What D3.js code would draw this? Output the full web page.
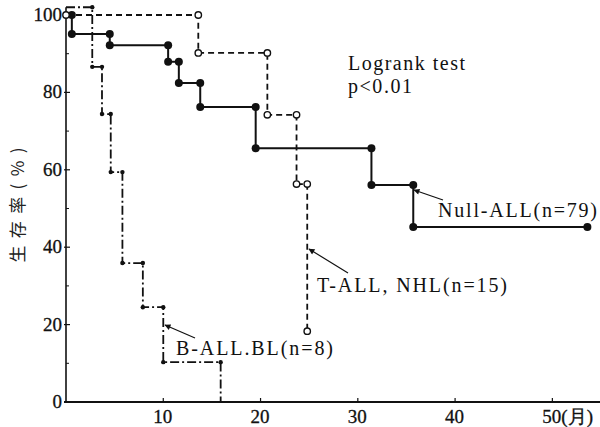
<!DOCTYPE html>
<html>
  <head>
    <meta charset="utf-8">
    <script src="https://d3js.org/d3.v7.min.js"></script>
    <style>
      body { margin: 0px; background: #fff; }
      text { font-family: 'Liberation Serif', 'DejaVu Serif', serif; fill: #111; }
      .tick-label { font-size: 19px; stroke: #111; stroke-width: 0.3px; }
      .note { font-size: 20px; }
      .ylab { font-family: 'Noto Sans CJK JP', sans-serif; font-size: 17px; fill: #222; }
    </style>
  </head>
  <body>
    <script>
      // survival curves (months, %)
      const nullTimes = [0, 0.6, 4.5, 10.5, 11.6, 13.8, 19.5, 31.4, 35.7];
      const nullSurv  = [100, 95.1, 92.2, 87.9, 82.4, 76.2, 65.6, 56.1, 45.2];
      const nullEnd = 53.6;

      const tTimes = [0, 13.6, 20.7, 23.7, 24.8];
      const tSurv  = [100, 90.2, 74.2, 56.3, 18.3];

      const bTimes = [0, 2.7, 3.7, 4.6, 5.8, 7.9, 10.0, 15.9];
      const bSurv  = [102, 86.6, 74.4, 59.4, 35.9, 24.5, 10.3, 0];

      const xTicks = [10, 20, 30, 40, 50];
      const xTickLabels = ['10', '20', '30', '40', '50(月)'];
      const yTicks = [20, 40, 60, 80, 100];
      const yMinor = [10, 30, 50, 70, 90];

      const svg = d3.select('body').append('svg')
        .attr('width', 600)
        .attr('height', 427);

      const xScale = d3.scaleLinear().domain([0, 55]).range([66, 601]);
      const yScale = d3.scaleLinear().domain([0, 100]).range([402, 15]);

      svg.append('defs').append('marker')
        .attr('id', 'arrow')
        .attr('viewBox', '0 0 10 10')
        .attr('refX', 9).attr('refY', 5)
        .attr('markerWidth', 7).attr('markerHeight', 5)
        .attr('orient', 'auto')
        .append('path')
          .attr('d', 'M0,0 L10,5 L0,10 z')
          .attr('fill', '#111');

      // axes
      svg.append('line')
        .attr('x1', xScale(0) - 2).attr('x2', 600)
        .attr('y1', yScale(0)).attr('y2', yScale(0))
        .attr('stroke', '#111').attr('stroke-width', 2);
      svg.append('line')
        .attr('x1', xScale(0)).attr('x2', xScale(0))
        .attr('y1', yScale(0)).attr('y2', yScale(102))
        .attr('stroke', '#111').attr('stroke-width', 1.6);

      svg.selectAll('.xt').data(xTicks).enter().append('line')
        .attr('x1', d => xScale(d)).attr('x2', d => xScale(d))
        .attr('y1', yScale(0)).attr('y2', yScale(0) - 4)
        .attr('stroke', '#111').attr('stroke-width', 1.2);
      svg.selectAll('.xl').data(xTicks).enter().append('text')
        .attr('class', 'tick-label')
        .attr('x', d => xScale(d) - 10)
        .attr('y', 423)
        .text((d, i) => xTickLabels[i]);

      svg.selectAll('.yt').data(yTicks).enter().append('line')
        .attr('x1', xScale(0) - 2).attr('x2', xScale(0) + 4)
        .attr('y1', d => yScale(d)).attr('y2', d => yScale(d))
        .attr('stroke', '#111').attr('stroke-width', 1.2);
      svg.selectAll('.ym').data(yMinor).enter().append('line')
        .attr('x1', xScale(0)).attr('x2', xScale(0) + 3)
        .attr('y1', d => yScale(d)).attr('y2', d => yScale(d))
        .attr('stroke', '#111').attr('stroke-width', 1);
      svg.selectAll('.yl').data([0].concat(yTicks)).enter().append('text')
        .attr('class', 'tick-label')
        .attr('x', xScale(0) - 4)
        .attr('y', d => yScale(d) + 6)
        .attr('text-anchor', 'end')
        .text(d => d);

      svg.append('text')
        .attr('class', 'ylab')
        .attr('transform', 'translate(24,205) rotate(-90)')
        .attr('text-anchor', 'middle')
        .attr('textLength', 115)
        .attr('lengthAdjust', 'spacing')
        .text('生存率(%)');

      const line = d3.line()
        .x(d => xScale(d[0]))
        .y(d => yScale(d[1]))
        .curve(d3.curveStepAfter);

      function corners(times, surv) {
        const pts = [];
        for (let i = 1; i < times.length; i++) {
          pts.push([times[i], surv[i - 1]]);
          pts.push([times[i], surv[i]]);
        }
        return pts;
      }

      // B-ALL, BL
      const bPts = bTimes.map((t, i) => [t, bSurv[i]]);
      svg.append('path')
        .attr('d', line(bPts))
        .attr('fill', 'none').attr('stroke', '#111')
        .attr('stroke-width', 1.8)
        .attr('stroke-dasharray', '9,3,2,3');
      svg.selectAll('.bdot').data(corners(bTimes, bSurv).slice(0, -1)).enter().append('circle')
        .attr('cx', d => xScale(d[0])).attr('cy', d => yScale(d[1]))
        .attr('r', 2.2).attr('fill', '#111');

      // T-ALL, NHL
      const tPts = tTimes.map((t, i) => [t, tSurv[i]]);
      svg.append('path')
        .attr('d', line(tPts))
        .attr('fill', 'none').attr('stroke', '#111')
        .attr('stroke-width', 1.8)
        .attr('stroke-dasharray', '6,4');

      // Null-ALL
      const nPts = nullTimes.map((t, i) => [t, nullSurv[i]]);
      nPts.push([nullEnd, nullSurv[nullSurv.length - 1]]);
      svg.append('path')
        .attr('d', line(nPts))
        .attr('fill', 'none').attr('stroke', '#111')
        .attr('stroke-width', 2);
      const nDots = corners(nullTimes, nullSurv);
      nDots.push([nullEnd, nullSurv[nullSurv.length - 1]]);
      svg.selectAll('.ndot').data(nDots).enter().append('circle')
        .attr('cx', d => xScale(d[0])).attr('cy', d => yScale(d[1]))
        .attr('r', 4).attr('fill', '#111');

      const tDots = [[tTimes[0], tSurv[0]]].concat(corners(tTimes, tSurv));
      svg.selectAll('.tdot').data(tDots).enter().append('circle')
        .attr('cx', d => xScale(d[0])).attr('cy', d => yScale(d[1]))
        .attr('r', 3.2).attr('fill', '#fff')
        .attr('stroke', '#111').attr('stroke-width', 1.4);

      // notes and labels
      svg.append('text').attr('class', 'note')
        .attr('x', 348).attr('y', 70)
        .attr('textLength', 117).attr('lengthAdjust', 'spacing')
        .text('Logrank test');
      svg.append('text').attr('class', 'note')
        .attr('x', 348).attr('y', 93)
        .attr('textLength', 64).attr('lengthAdjust', 'spacing')
        .text('p<0.01');

      const labels = [
        { text: 'Null-ALL(n=79)', x: 438, y: 217, len: 159, ax: 443, ay: 200, bx: 414, by: 190 },
        { text: 'T-ALL, NHL(n=15)', x: 317, y: 292, len: 190, ax: 348, ay: 273, bx: 309, by: 249 },
        { text: 'B-ALL.BL(n=8)', x: 176, y: 355, len: 157, ax: 195, ay: 338, bx: 165, by: 325 }
      ];
      labels.forEach(l => {
        svg.append('text').attr('class', 'note')
          .attr('x', l.x).attr('y', l.y)
          .attr('textLength', l.len).attr('lengthAdjust', 'spacing')
          .text(l.text);
        svg.append('line')
          .attr('x1', l.ax).attr('y1', l.ay)
          .attr('x2', l.bx).attr('y2', l.by)
          .attr('stroke', '#111').attr('stroke-width', 1.2)
          .attr('marker-end', 'url(#arrow)');
      });
    </script>
  </body>
</html>
